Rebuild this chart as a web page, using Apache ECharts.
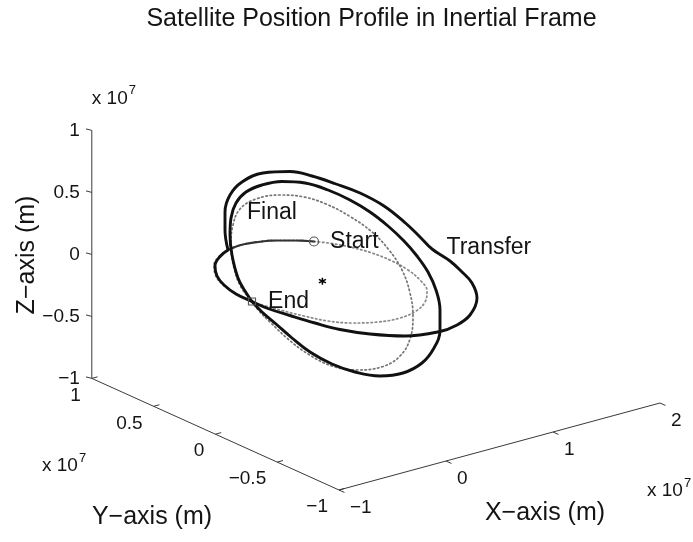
<!DOCTYPE html>
<html>
<head>
<meta charset="utf-8">
<script src="https://cdn.jsdelivr.net/npm/echarts@6/dist/echarts.min.js"></script>
<style>
  html, body { margin: 0; padding: 0; background: #fff; }
  #chart { width: 693px; height: 542px; }
</style>
</head>
<body>
<div id="chart"></div>
<script type="text/javascript">
// axis ticks (units of 1e7 m)
var xTicks = [-1, 0, 1, 2];
var yTicks = [-1, -0.5, 0, 0.5, 1];
var zTicks = [-1, -0.5, 0, 0.5, 1];
var xRange = [-1, 2];
var yRange = [-1, 1];
var zRange = [-1, 1];

// curves in the projected view plane
var initialOrbit = [
  [314, 241.5], [332, 243.5], [352, 247.5], [372, 253], [392, 261], [408, 270],
  [420, 280], [427, 291], [425, 302], [416, 311], [400, 318], [378, 322],
  [352, 323], [328, 321], [304, 316], [282, 310.5], [264, 305.5], [252, 301.5],
  [236, 293.5], [222, 284], [215, 274], [214, 265], [219, 256.5], [228, 250],
  [241, 245], [258, 242], [276, 240.5], [296, 240.5], [314, 241.5]
];
var startLeg = [
  [314, 241.5], [296, 240.5], [276, 240.5], [258, 242], [241, 245], [228, 250]
];
var finalOrbit = [
  [252, 301.5], [241, 287], [234, 268], [231, 245], [233, 225], [240, 209],
  [256, 199], [280, 195], [304, 197], [326, 204], [350, 216.5], [372, 232],
  [389, 250], [402, 270], [410, 293], [413, 316], [410, 339], [400, 356],
  [383, 366.5], [357, 370], [332, 366], [308, 354], [288, 339], [270, 322],
  [259, 311], [252, 301.5]
];
var transferLoop1 = [
  [228, 250], [220, 256.5], [215, 266], [217, 276], [224, 285], [236, 294],
  [252, 301.5], [268, 308.5], [290, 315.5], [315, 323], [340, 329.5], [370, 334],
  [405, 336], [440, 331.5], [456, 325.5], [470, 315], [477, 298], [472, 283],
  [462, 272], [450, 261], [432, 249], [420, 237], [406, 223.5], [384, 206],
  [360, 193], [336, 184], [312, 176], [290, 171.5], [263, 173], [242, 182],
  [230, 195], [225, 212], [225, 230], [228, 250]
];
var transferLoop2 = [
  [252, 301.5], [262, 312], [276, 324], [292, 338], [310, 352], [332, 364],
  [355, 372], [380, 376], [403, 373], [422, 363], [434, 348], [440, 330],
  [440, 310], [436, 290], [428, 272], [417, 256], [404, 241], [388, 226],
  [370, 212], [350, 200], [328, 190], [305, 183], [282, 181.5], [262, 185],
  [246, 192], [236, 203], [231, 218], [230, 235], [232, 255], [238, 278],
  [245, 291], [252, 301.5]
];
var startPoint = [314, 241.5];
var endPoint = [252, 301.5];
var earthPos = [0, 0, 0];

// view projection of the 3D box (az -37.5, el 30 look)
var ORIGIN = [322.4, 281.2];
var EX = [107, -29];
var EY = [-123.6, -55.8];
var EZ = [0, -124];
function proj(x, y, z) {
  return [ORIGIN[0] + x * EX[0] + y * EY[0] + z * EZ[0],
          ORIGIN[1] + x * EX[1] + y * EY[1] + z * EZ[1]];
}
function fmt(v) { return String(v).replace('-', '\u2212'); }

var FONT = '"Liberation Sans", Helvetica, Arial, sans-serif';
var INK = '#141414';

var chart = echarts.init(document.getElementById('chart'));

function axisLine(a, b) {
  return {
    type: 'line', data: [a, b], symbol: 'none', silent: true, z: 3,
    lineStyle: { color: '#3a3a3a', width: 1 }
  };
}

function tickSeries(pts, dir, len, lab) {
  return {
    type: 'custom', coordinateSystem: 'cartesian2d', silent: true, z: 3,
    data: pts,
    renderItem: function (params, api) {
      var x = api.value(0), y = api.value(1);
      var p = api.coord([x, y]);
      var q = api.coord([x + dir[0] * len, y + dir[1] * len]);
      var t = api.coord([x + lab.dx, y + lab.dy]);
      return {
        type: 'group',
        children: [
          { type: 'line', shape: { x1: p[0], y1: p[1], x2: q[0], y2: q[1] },
            style: { stroke: '#3a3a3a', lineWidth: 1 } },
          { type: 'text', x: t[0], y: t[1],
            style: { text: fmt(api.value(2)), font: '19px ' + FONT, fill: INK,
                     align: lab.align, textAlign: lab.align,
                     verticalAlign: 'middle', textVerticalAlign: 'middle' } }
        ]
      };
    }
  };
}

var xPts = xTicks.map(function (v) { return proj(v, yRange[0], zRange[0]).concat([v]); });
var yPts = yTicks.map(function (v) { return proj(xRange[0], v, zRange[0]).concat([v]); });
var zPts = zTicks.map(function (v) { return proj(xRange[0], yRange[1], v).concat([v]); });

var corner = proj(xRange[0], yRange[0], zRange[0]);
var cornerBack = proj(xRange[0], yRange[1], zRange[0]);
var zTop = proj(xRange[0], yRange[1], zRange[1]);
var xEnd = proj(xRange[1], yRange[0], zRange[0]);
var earth = proj(earthPos[0], earthPos[1], earthPos[2]);

function txt(x, y, s, size, align, extra) {
  var e = {
    type: 'text', x: x, y: y, silent: true,
    style: { text: s, font: size + 'px ' + FONT, fill: INK,
             align: align, textAlign: align,
             verticalAlign: 'middle', textVerticalAlign: 'middle' }
  };
  if (extra) { for (var k in extra) e[k] = extra[k]; }
  return e;
}

function orbitLine(data, color, width, dash, z) {
  return {
    type: 'line', data: data, smooth: 0.4, symbol: 'none', silent: true, z: z,
    lineStyle: { color: color, width: width, type: dash, cap: 'round' }
  };
}

var labelStyle = { fontFamily: FONT, fontSize: 23, color: INK };

var option = {
  animation: false,
  backgroundColor: '#fff',
  grid: { left: 0, right: 0, top: 0, bottom: 0 },
  xAxis: { type: 'value', min: 0, max: 693, show: false },
  yAxis: { type: 'value', min: 0, max: 542, inverse: true, show: false },
  graphic: [
    txt(371.5, 19, 'Satellite Position Profile in Inertial Frame', 25, 'center'),
    txt(27, 255, 'Z\u2212axis (m)', 25, 'center', { rotation: Math.PI / 2 }),
    txt(152, 517, 'Y\u2212axis (m)', 25, 'center'),
    txt(545, 513, 'X\u2212axis (m)', 25, 'center'),
    // x 10^7 multipliers
    txt(zTop[0], zTop[1] - 32, 'x 10', 19, 'left'),
    txt(zTop[0] + 37, zTop[1] - 40, '7', 13, 'left'),
    txt(42, 466, 'x 10', 19, 'left'),
    txt(79, 458, '7', 13, 'left'),
    txt(xEnd[0] - 13, xEnd[1] + 88, 'x 10', 19, 'left'),
    txt(xEnd[0] + 24, xEnd[1] + 80, '7', 13, 'left')
  ],
  series: [
    axisLine(cornerBack, zTop),
    axisLine(cornerBack, corner),
    axisLine(corner, xEnd),
    tickSeries(xPts, [0.911, 0.411], 6, { dx: 11, dy: 18, align: 'left' }),
    tickSeries(yPts, [0.965, -0.262], 6, { dx: -11, dy: 17, align: 'right' }),
    tickSeries(zPts, [-0.97, -0.25], 6, { dx: -12, dy: 0, align: 'right' }),
    orbitLine(initialOrbit, '#888888', 1.7, [1.5, 2.8], 4),
    orbitLine(finalOrbit, '#747474', 1.7, [1.5, 2.8], 4),
    orbitLine(startLeg, '#333333', 2.2, [2, 1.2], 5),
    orbitLine(transferLoop1, '#111111', 2.9, 'solid', 6),
    orbitLine(transferLoop2, '#111111', 2.9, 'solid', 6),
    {
      type: 'scatter', silent: true, z: 8,
      data: [{ value: startPoint }],
      symbol: 'circle', symbolSize: 9,
      itemStyle: { color: 'rgba(0,0,0,0)', borderColor: '#555', borderWidth: 1.2, opacity: 1 },
      label: Object.assign({ show: true, formatter: 'Start', position: 'right', distance: 11 }, labelStyle)
    },
    {
      type: 'scatter', silent: true, z: 8,
      data: [{ value: endPoint }],
      symbol: 'rect', symbolSize: 7,
      itemStyle: { color: 'rgba(0,0,0,0)', borderColor: '#555', borderWidth: 1.2, opacity: 1 },
      label: Object.assign({ show: true, formatter: 'End', position: 'right', distance: 12 }, labelStyle)
    },
    {
      type: 'scatter', silent: true, z: 8,
      data: [{ value: earth }],
      symbol: 'path://M5,0L5,10M0.7,2.5L9.3,7.5M0.7,7.5L9.3,2.5', symbolSize: 7,
      itemStyle: { color: 'none', borderColor: '#000', borderWidth: 1.5, opacity: 1 }
    },
    {
      type: 'scatter', silent: true, z: 8, symbolSize: 0,
      itemStyle: { opacity: 1 },
      data: [
        { value: finalOrbit[4], label: { formatter: 'Final', offset: [14, -12.5] } },
        { value: transferLoop1[20], label: { formatter: 'Transfer', offset: [14.5, -1] } }
      ],
      label: Object.assign({ show: true, position: 'right', distance: 0 }, labelStyle)
    }
  ]
};

chart.setOption(option);
</script>
</body>
</html>
